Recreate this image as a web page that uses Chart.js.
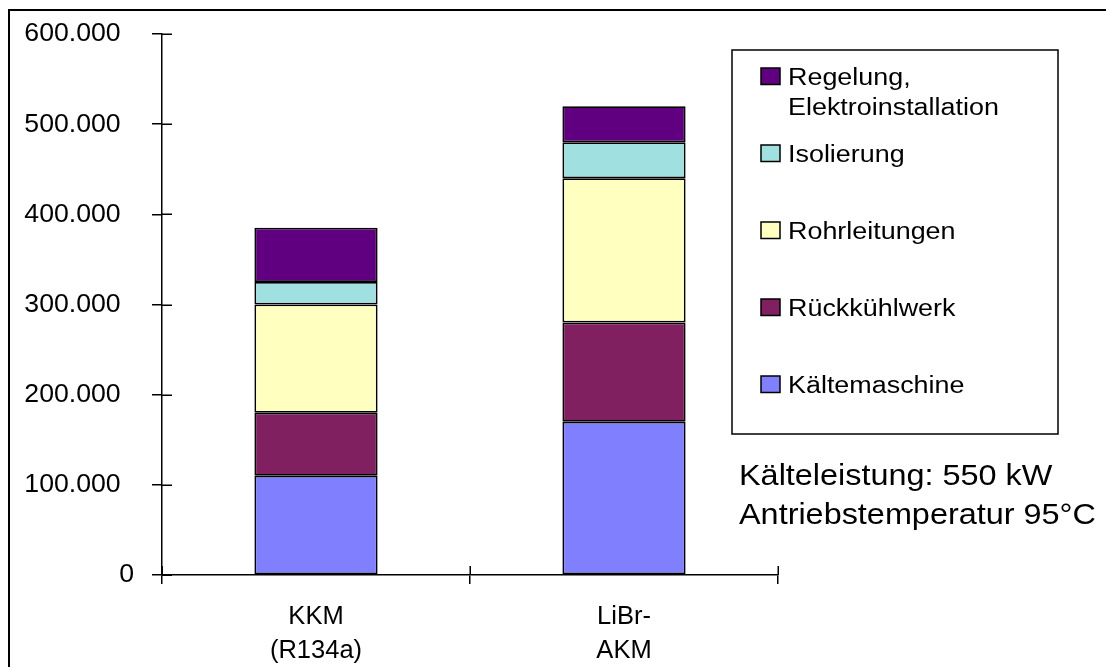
<!DOCTYPE html>
<html>
<head>
<meta charset="utf-8">
<script src="https://cdn.jsdelivr.net/npm/chart.js@4/dist/chart.umd.min.js"></script>
<style>
  html, body { margin: 0; padding: 0; background: #fff; overflow: hidden; }
  #wrap { width: 1106px; height: 667px; }
</style>
</head>
<body>
<div id="wrap"><canvas id="c" width="1106" height="667"></canvas></div>
<script>
// Investitionskosten je Anlagenvariante (Euro), gestapelt nach Kostenposition
const categories = [['KKM', '(R134a)'], ['LiBr-', 'AKM']];
const seriesNames = ['Kältemaschine', 'Rückkühlwerk', 'Rohrleitungen', 'Isolierung', 'Regelung,\nElektroinstallation'];
const kaeltemaschine = [110000, 170000];
const rueckkuehlwerk = [70000, 110000];
const rohrleitungen = [120000, 160000];
const isolierung = [25000, 40000];
const regelung = [60000, 40000];
const seriesColors = ['#8080FF', '#802060', '#FFFFC0', '#A0E0E0', '#600080'];
const yTicks = [0, 100000, 200000, 300000, 400000, 500000, 600000];
const noteLines = ['Kälteleistung: 550 kW', 'Antriebstemperatur 95°C'];

const FONT = "'Liberation Sans', Arial, sans-serif";
const seriesValues = [kaeltemaschine, rueckkuehlwerk, rohrleitungen, isolierung, regelung];

// Tausenderpunkt wie in der deutschen Schreibweise; die Null steht etwas weiter rechts
function fmt(v) {
  if (v === 0) return '0';
  return String(v).replace(/\B(?=(\d{3})+(?!\d))/g, '.') + '\u2002';
}

function stretchedText(ctx, text, x, y, sx) {
  ctx.save();
  ctx.translate(x, y);
  ctx.scale(sx, 1);
  ctx.fillText(text, 0, 0);
  ctx.restore();
}

// Rahmen oben und links
const framePlugin = {
  id: 'frame',
  beforeDraw(chart) {
    const ctx = chart.ctx;
    ctx.save();
    ctx.fillStyle = '#fff';
    ctx.fillRect(0, 0, chart.width, chart.height);
    ctx.strokeStyle = '#000';
    ctx.lineWidth = 2;
    ctx.beginPath();
    ctx.moveTo(8, 10);
    ctx.lineTo(chart.width, 10);
    ctx.moveTo(9, 9);
    ctx.lineTo(9, chart.height);
    ctx.stroke();
    ctx.restore();
  }
};

// Teilstriche, die nach innen über die Achsen hinausragen
const innerTicksPlugin = {
  id: 'innerTicks',
  afterDraw(chart) {
    const ctx = chart.ctx;
    const y = chart.scales.y;
    const x = chart.scales.x;
    const area = chart.chartArea;
    ctx.save();
    ctx.strokeStyle = '#000';
    ctx.lineWidth = 1.5;
    ctx.beginPath();
    y.ticks.forEach(t => {
      const py = Math.round(y.getPixelForValue(t.value)) + 0.25;
      ctx.moveTo(area.left, py);
      ctx.lineTo(area.left + 10, py);
    });
    const n = x.ticks.length;
    for (let i = 0; i <= n; i++) {
      const px = Math.round(area.left + i * (area.right - area.left) / n) + 0.25;
      ctx.moveTo(px, area.bottom);
      ctx.lineTo(px, area.bottom - 9);
    }
    ctx.stroke();
    ctx.restore();
  }
};

// Legende im Kasten rechts, Reihenfolge von oben nach unten wie im Stapel
const boxLegendPlugin = {
  id: 'boxLegend',
  afterDraw(chart) {
    const ctx = chart.ctx;
    ctx.save();
    ctx.strokeStyle = '#000';
    ctx.lineWidth = 1.5;
    ctx.strokeRect(732, 50, 326, 384);
    ctx.font = '23.5px ' + FONT;
    ctx.fillStyle = '#000';
    ctx.textBaseline = 'alphabetic';
    const items = chart.data.datasets.slice().reverse();
    items.forEach((ds, i) => {
      const top = 68 + i * 77;
      ctx.fillStyle = ds.backgroundColor;
      ctx.fillRect(761, top, 19, 16.5);
      ctx.strokeRect(761, top, 19, 16.5);
      ctx.fillStyle = '#000';
      ds.label.split('\n').forEach((line, k) => {
        stretchedText(ctx, line, 788, top + 16.5 + k * 30, 1.145);
      });
    });
    // Randbedingungen der Auslegung
    ctx.font = '30px ' + FONT;
    stretchedText(ctx, noteLines[0], 739, 485, 1.08);
    stretchedText(ctx, noteLines[1], 739, 524, 1.08);
    ctx.restore();
  }
};

const datasets = seriesNames.map((name, i) => ({
  label: name,
  data: seriesValues[i],
  backgroundColor: seriesColors[i],
  borderColor: '#000',
  borderWidth: 1.75,
  borderSkipped: false,
  inflateAmount: 0,
  barPercentage: 0.4,
  categoryPercentage: 1.0
}));

new Chart(document.getElementById('c'), {
  type: 'bar',
  data: { labels: categories, datasets },
  options: {
    responsive: false,
    devicePixelRatio: 1,
    animation: false,
    layout: { padding: { left: 0, right: 328, top: 34, bottom: 0 } },
    plugins: {
      legend: { display: false },
      tooltip: { enabled: false }
    },
    scales: {
      x: {
        stacked: true,
        grid: { display: true, drawOnChartArea: false, drawTicks: true, tickLength: 9, color: '#000', lineWidth: 1.5, offset: true },
        border: { display: true, color: '#000', width: 1.5 },
        ticks: {
          color: '#000',
          font: { family: FONT, size: 25.5, lineHeight: 1.345 },
          padding: 15.5,
          maxRotation: 0,
          autoSkip: false
        },
        afterFit(s) { s.height = 92; }
      },
      y: {
        stacked: true,
        min: yTicks[0],
        max: yTicks[yTicks.length - 1],
        grid: { display: true, drawOnChartArea: false, drawTicks: true, tickLength: 10, color: '#000', lineWidth: 1.5 },
        border: { display: true, color: '#000', width: 1.5 },
        ticks: {
          stepSize: yTicks[1] - yTicks[0],
          color: '#000',
          font: { family: FONT, size: 26.67 },
          padding: 18,
          callback: v => fmt(v)
        },
        afterFit(s) {
          s.width = 162;
          s.paddingTop = 0;
          s.paddingBottom = 0;
        }
      }
    }
  },
  plugins: [framePlugin, innerTicksPlugin, boxLegendPlugin]
});
</script>
</body>
</html>
